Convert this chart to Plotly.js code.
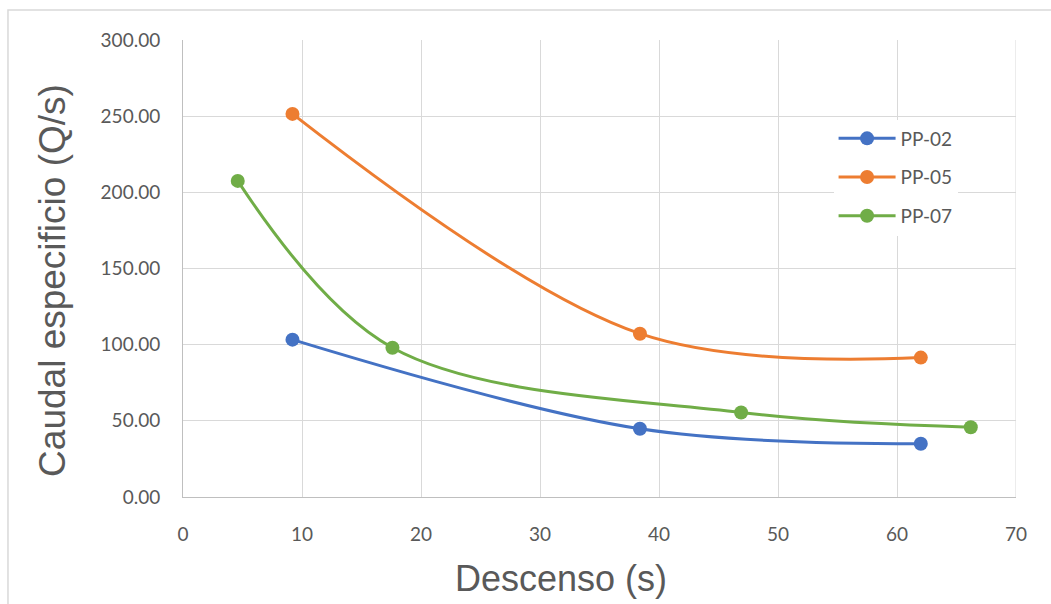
<!DOCTYPE html>
<html>
<head>
<meta charset="utf-8">
<script src="https://cdn.plot.ly/plotly-3.0.1.min.js"></script>
<style>
html,body{margin:0;padding:0;background:#fff;}
#chart{width:1051px;height:604px;}
</style>
</head>
<body>
<div id="chart"></div>
<script>
// Data
const seriesNames = ["PP-02", "PP-05", "PP-07"];
const pp02_x = [9.2, 38.4, 62.0];
const pp02_y = [103.3, 44.8, 35.0];
const pp05_x = [9.2, 38.4, 62.0];
const pp05_y = [251.5, 107.2, 91.5];
const pp07_x = [4.6, 17.6, 46.9, 66.2];
const pp07_y = [207.5, 98.0, 55.5, 45.8];
const colors = ["#4472C4", "#ED7D31", "#70AD47"];

const xs = [pp02_x, pp05_x, pp07_x];
const ys = [pp02_y, pp05_y, pp07_y];

const traces = seriesNames.map((name, i) => ({
  type: "scatter",
  mode: "lines+markers",
  name: name,
  legendgroup: name,
  x: xs[i],
  y: ys[i],
  line: {color: colors[i], width: 3, shape: "spline", smoothing: 1},
  marker: {color: colors[i], size: 14}
}));

const tickFont = {family: "Lato, 'Open Sans', sans-serif", size: 19, color: "#595959"};

const layout = {
  width: 1051,
  height: 604,
  margin: {l: 183, r: 35, t: 40, b: 107},
  paper_bgcolor: "#ffffff",
  plot_bgcolor: "#ffffff",
  showlegend: true,
  legend: {
    x: 0.781, y: 0.826, xanchor: "left", yanchor: "top",
    bgcolor: "#ffffff",
    font: {family: "Lato, 'Open Sans', sans-serif", size: 19, color: "#595959"},
    traceorder: "grouped",
    tracegroupgap: 11,
    itemwidth: 57
  },
  xaxis: {
    range: [0, 70],
    tickvals: [0, 10, 20, 30, 40, 50, 60, 70],
    ticktext: ["0", "10", "20", "30", "40", "50", "60", "70"],
    showgrid: true,
    gridcolor: "#d9d9d9",
    gridwidth: 1,
    zeroline: false,
    showline: true,
    linecolor: "#bfbfbf",
    linewidth: 1,
    mirror: false,
    ticks: "outside",
    ticklen: 20,
    tickcolor: "rgba(0,0,0,0)",
    tickfont: tickFont
  },
  yaxis: {
    range: [0, 300],
    tickvals: [0, 50, 100, 150, 200, 250, 300],
    tickformat: ".2f",
    showgrid: true,
    gridcolor: "#d9d9d9",
    gridwidth: 1,
    zeroline: false,
    showline: true,
    linecolor: "#bfbfbf",
    linewidth: 1,
    ticks: "outside",
    ticklen: 18,
    tickcolor: "rgba(0,0,0,0)",
    tickfont: tickFont
  },
  annotations: [
    {
      text: "Caudal especificio (Q/s)",
      xref: "paper", yref: "paper",
      x: -0.156, y: 0.473,
      xanchor: "center", yanchor: "middle",
      textangle: -90,
      showarrow: false,
      font: {family: "'Liberation Sans', Arial, sans-serif", size: 37, color: "#595959"}
    },
    {
      text: "Descenso (s)",
      xref: "paper", yref: "paper",
      x: 0.454, y: -0.178,
      xanchor: "center", yanchor: "middle",
      showarrow: false,
      font: {family: "'Liberation Sans', Arial, sans-serif", size: 36, color: "#595959"}
    }
  ],
  shapes: [
    {
      type: "path",
      xref: "paper", yref: "paper",
      path: "M -0.2101,-0.30 L -0.2101,1.0656 L 1.05,1.0656",
      line: {color: "#d9d9d9", width: 1.5}
    },
    {
      type: "line",
      xref: "x", yref: "paper",
      x0: 70, x1: 70, y0: 0, y1: 1,
      line: {color: "#d9d9d9", width: 1}
    }
  ]
};

Plotly.newPlot("chart", traces, layout, {displayModeBar: false, staticPlot: true});
</script>
</body>
</html>
